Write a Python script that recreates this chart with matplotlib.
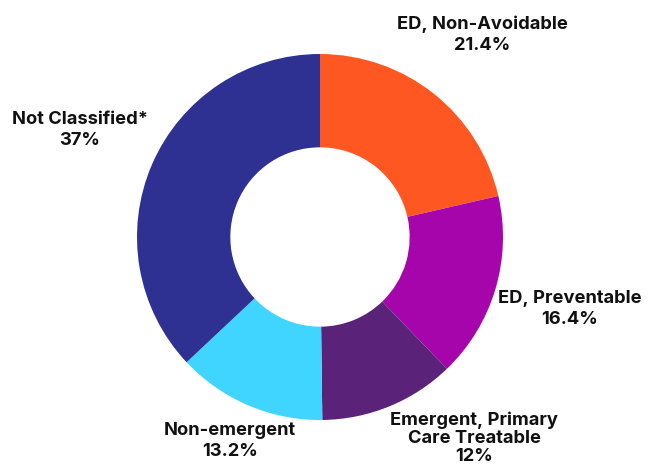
import matplotlib.pyplot as plt

# data
labels = ['ED, Non-Avoidable', 'ED, Preventable', 'Emergent, Primary\nCare Treatable',
          'Non-emergent', 'Not Classified*']
values = [21.4, 16.4, 12, 13.2, 37]
value_text = ['21.4%', '16.4%', '12%', '13.2%', '37%']
colors = ['#FF5722', '#A505AA', '#5B2279', '#3FD5FF', '#2E3192']

# label anchor positions in pixels (top-left origin), layout only
label_pos = [(482, 35), (570, 309), (474, 438), (230, 441), (80, 130)]
line_gap = [1.3, 1.3, 1.08, 1.3, 1.3]

W, H = 651, 465
fig = plt.figure(figsize=(W / 100, H / 100), dpi=100)
ax = fig.add_axes([0, 0, 1, 1])

cx, cy, r = 320, H - 237, 183
ax.pie(values, colors=colors, startangle=90, counterclock=False,
       center=(cx, cy), radius=r, frame=True,
       wedgeprops=dict(width=r * 0.51, edgecolor='white', linewidth=0))
ax.set_xlim(0, W)
ax.set_ylim(0, H)
ax.axis('off')

for lab, val, (x, y), ls in zip(labels, value_text, label_pos, line_gap):
    ax.text(x, H - y, lab + '\n' + val, ha='center', va='center',
            fontsize=13.2, fontweight='bold', family='Inter',
            color='#111111', linespacing=ls)

fig.savefig('out.png', dpi=100)
